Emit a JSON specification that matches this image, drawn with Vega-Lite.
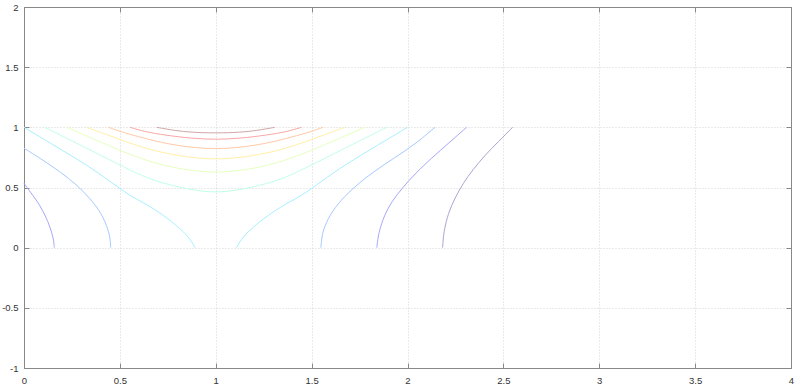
{
  "$schema": "https://vega.github.io/schema/vega-lite/v6.json",
  "width": 767,
  "height": 361,
  "autosize": {"type": "none"},
  "padding": {"left": 24, "top": 7, "right": 9, "bottom": 20},
  "background": "white",
  "config": {
    "view": {"stroke": "#888", "strokeWidth": 1},
    "axis": {
      "labelFont": "Liberation Sans",
      "labelFontSize": 9.5,
      "labelColor": "#333",
      "domainColor": "#888",
      "tickColor": "#888",
      "tickSize": -5,
      "gridColor": "#d4d4d4",
      "gridDash": [1, 2],
      "title": null
    }
  },
  "data": {"values": [
    {"s":"9","l":9,"x":0.692,"y":1},{"s":"9","l":9,"x":0.787,"y":0.973},{"s":"9","l":9,"x":0.874,"y":0.958},{"s":"9","l":9,"x":1,"y":0.952},{"s":"9","l":9,"x":1.126,"y":0.958},{"s":"9","l":9,"x":1.213,"y":0.973},{"s":"9","l":9,"x":1.308,"y":1},
    {"s":"8","l":8,"x":0.553,"y":1},{"s":"8","l":8,"x":0.631,"y":0.963},{"s":"8","l":8,"x":0.735,"y":0.935},{"s":"8","l":8,"x":0.874,"y":0.908},{"s":"8","l":8,"x":1,"y":0.898},{"s":"8","l":8,"x":1.126,"y":0.908},{"s":"8","l":8,"x":1.265,"y":0.935},{"s":"8","l":8,"x":1.369,"y":0.963},{"s":"8","l":8,"x":1.447,"y":1},
    {"s":"7","l":7,"x":0.44,"y":1},{"s":"7","l":7,"x":0.527,"y":0.952},{"s":"7","l":7,"x":0.631,"y":0.908},{"s":"7","l":7,"x":0.735,"y":0.866},{"s":"7","l":7,"x":0.874,"y":0.832},{"s":"7","l":7,"x":1,"y":0.819},{"s":"7","l":7,"x":1.126,"y":0.832},{"s":"7","l":7,"x":1.265,"y":0.866},{"s":"7","l":7,"x":1.369,"y":0.908},{"s":"7","l":7,"x":1.473,"y":0.952},{"s":"7","l":7,"x":1.56,"y":1},
    {"s":"6","l":6,"x":0.327,"y":1},{"s":"6","l":6,"x":0.431,"y":0.94},{"s":"6","l":6,"x":0.527,"y":0.882},{"s":"6","l":6,"x":0.631,"y":0.827},{"s":"6","l":6,"x":0.735,"y":0.785},{"s":"6","l":6,"x":0.874,"y":0.746},{"s":"6","l":6,"x":1,"y":0.735},{"s":"6","l":6,"x":1.126,"y":0.746},{"s":"6","l":6,"x":1.265,"y":0.785},{"s":"6","l":6,"x":1.369,"y":0.827},{"s":"6","l":6,"x":1.473,"y":0.882},{"s":"6","l":6,"x":1.569,"y":0.94},{"s":"6","l":6,"x":1.673,"y":1},
    {"s":"5","l":5,"x":0.222,"y":1},{"s":"5","l":5,"x":0.31,"y":0.94},{"s":"5","l":5,"x":0.396,"y":0.88},{"s":"5","l":5,"x":0.527,"y":0.79},{"s":"5","l":5,"x":0.631,"y":0.73},{"s":"5","l":5,"x":0.735,"y":0.68},{"s":"5","l":5,"x":0.874,"y":0.638},{"s":"5","l":5,"x":1,"y":0.624},{"s":"5","l":5,"x":1.126,"y":0.638},{"s":"5","l":5,"x":1.265,"y":0.68},{"s":"5","l":5,"x":1.369,"y":0.73},{"s":"5","l":5,"x":1.473,"y":0.79},{"s":"5","l":5,"x":1.604,"y":0.88},{"s":"5","l":5,"x":1.69,"y":0.94},{"s":"5","l":5,"x":1.778,"y":1},
    {"s":"4","l":4,"x":0.109,"y":1},{"s":"4","l":4,"x":0.24,"y":0.895},{"s":"4","l":4,"x":0.413,"y":0.757},{"s":"4","l":4,"x":0.553,"y":0.645},{"s":"4","l":4,"x":0.631,"y":0.586},{"s":"4","l":4,"x":0.735,"y":0.53},{"s":"4","l":4,"x":0.874,"y":0.48},{"s":"4","l":4,"x":1,"y":0.455},{"s":"4","l":4,"x":1.126,"y":0.48},{"s":"4","l":4,"x":1.265,"y":0.53},{"s":"4","l":4,"x":1.369,"y":0.586},{"s":"4","l":4,"x":1.447,"y":0.645},{"s":"4","l":4,"x":1.587,"y":0.757},{"s":"4","l":4,"x":1.76,"y":0.895},{"s":"4","l":4,"x":1.891,"y":1},
    {"s":"3a","l":3,"x":0,"y":1},{"s":"3a","l":3,"x":0.153,"y":0.854},{"s":"3a","l":3,"x":0.327,"y":0.688},{"s":"3a","l":3,"x":0.45,"y":0.55},{"s":"3a","l":3,"x":0.553,"y":0.43},{"s":"3a","l":3,"x":0.631,"y":0.369},{"s":"3a","l":3,"x":0.735,"y":0.262},{"s":"3a","l":3,"x":0.805,"y":0.17},{"s":"3a","l":3,"x":0.86,"y":0.09},{"s":"3a","l":3,"x":0.892,"y":0},
    {"s":"3b","l":3,"x":1.108,"y":0},{"s":"3b","l":3,"x":1.14,"y":0.09},{"s":"3b","l":3,"x":1.195,"y":0.17},{"s":"3b","l":3,"x":1.265,"y":0.262},{"s":"3b","l":3,"x":1.369,"y":0.369},{"s":"3b","l":3,"x":1.447,"y":0.43},{"s":"3b","l":3,"x":1.55,"y":0.55},{"s":"3b","l":3,"x":1.673,"y":0.688},{"s":"3b","l":3,"x":1.847,"y":0.854},{"s":"3b","l":3,"x":2,"y":1},
    {"s":"2a","l":2,"x":0,"y":0.827},{"s":"2a","l":2,"x":0.083,"y":0.744},{"s":"2a","l":2,"x":0.188,"y":0.632},{"s":"2a","l":2,"x":0.275,"y":0.522},{"s":"2a","l":2,"x":0.344,"y":0.411},{"s":"2a","l":2,"x":0.405,"y":0.286},{"s":"2a","l":2,"x":0.44,"y":0.147},{"s":"2a","l":2,"x":0.45,"y":0.07},{"s":"2a","l":2,"x":0.452,"y":0},
    {"s":"2b","l":2,"x":1.548,"y":0},{"s":"2b","l":2,"x":1.552,"y":0.07},{"s":"2b","l":2,"x":1.56,"y":0.147},{"s":"2b","l":2,"x":1.595,"y":0.275},{"s":"2b","l":2,"x":1.652,"y":0.395},{"s":"2b","l":2,"x":1.728,"y":0.512},{"s":"2b","l":2,"x":1.82,"y":0.628},{"s":"2b","l":2,"x":1.935,"y":0.75},{"s":"2b","l":2,"x":2.04,"y":0.86},{"s":"2b","l":2,"x":2.143,"y":1},
    {"s":"1a","l":1,"x":0,"y":0.536},{"s":"1a","l":1,"x":0.031,"y":0.466},{"s":"1a","l":1,"x":0.083,"y":0.355},{"s":"1a","l":1,"x":0.118,"y":0.245},{"s":"1a","l":1,"x":0.144,"y":0.133},{"s":"1a","l":1,"x":0.155,"y":0.06},{"s":"1a","l":1,"x":0.158,"y":0},
    {"s":"1b","l":1,"x":1.84,"y":0},{"s":"1b","l":1,"x":1.845,"y":0.07},{"s":"1b","l":1,"x":1.853,"y":0.14},{"s":"1b","l":1,"x":1.878,"y":0.265},{"s":"1b","l":1,"x":1.918,"y":0.385},{"s":"1b","l":1,"x":1.975,"y":0.5},{"s":"1b","l":1,"x":2.042,"y":0.619},{"s":"1b","l":1,"x":2.125,"y":0.744},{"s":"1b","l":1,"x":2.215,"y":0.869},{"s":"1b","l":1,"x":2.308,"y":1},
    {"s":"0","l":0,"x":2.183,"y":0},{"s":"0","l":0,"x":2.186,"y":0.07},{"s":"0","l":0,"x":2.192,"y":0.15},{"s":"0","l":0,"x":2.212,"y":0.286},{"s":"0","l":0,"x":2.247,"y":0.411},{"s":"0","l":0,"x":2.29,"y":0.536},{"s":"0","l":0,"x":2.34,"y":0.646},{"s":"0","l":0,"x":2.405,"y":0.771},{"s":"0","l":0,"x":2.475,"y":0.882},{"s":"0","l":0,"x":2.548,"y":1}
  ]},
  "layer": [
    {
      "mark": {"type": "line", "strokeWidth": 1, "interpolate": "basis"},
      "encoding": {
        "x": {"field": "x", "type": "quantitative", "scale": {"domain": [0, 4], "nice": false, "zero": false},
              "axis": {"orient": "bottom", "values": [0, 0.5, 1, 1.5, 2, 2.5, 3, 3.5, 4], "grid": true, "labelPadding": 12, "labelExpr": "datum.value + ''", "labelFlush": false}},
        "y": {"field": "y", "type": "quantitative", "scale": {"domain": [-1, 2], "nice": false, "zero": false},
              "axis": {"orient": "left", "values": [-1, -0.5, 0, 0.5, 1, 1.5, 2], "grid": true, "labelPadding": 11, "labelExpr": "datum.value + ''", "labelFlush": false}},
        "color": {"field": "l", "type": "ordinal", "legend": null,
                  "scale": {"domain": [0, 1, 2, 3, 4, 5, 6, 7, 8, 9],
                            "range": ["#a6a6d3", "#a6a6fa", "#a6c9ff", "#a6f0ff", "#bfffe6", "#e6ffbf", "#fff0a6", "#ffc9a6", "#faa6a6", "#d2a6a6"]}},
        "detail": {"field": "s"}
      }
    },
    {
      "mark": {"type": "point", "opacity": 0},
      "encoding": {
        "x": {"field": "x", "type": "quantitative",
              "axis": {"orient": "top", "values": [0, 0.5, 1, 1.5, 2, 2.5, 3, 3.5, 4], "grid": false, "labels": false}},
        "y": {"field": "y", "type": "quantitative",
              "axis": {"orient": "right", "values": [-1, -0.5, 0, 0.5, 1, 1.5, 2], "grid": false, "labels": false}}
      }
    }
  ],
  "resolve": {"axis": {"x": "independent", "y": "independent"}}
}
